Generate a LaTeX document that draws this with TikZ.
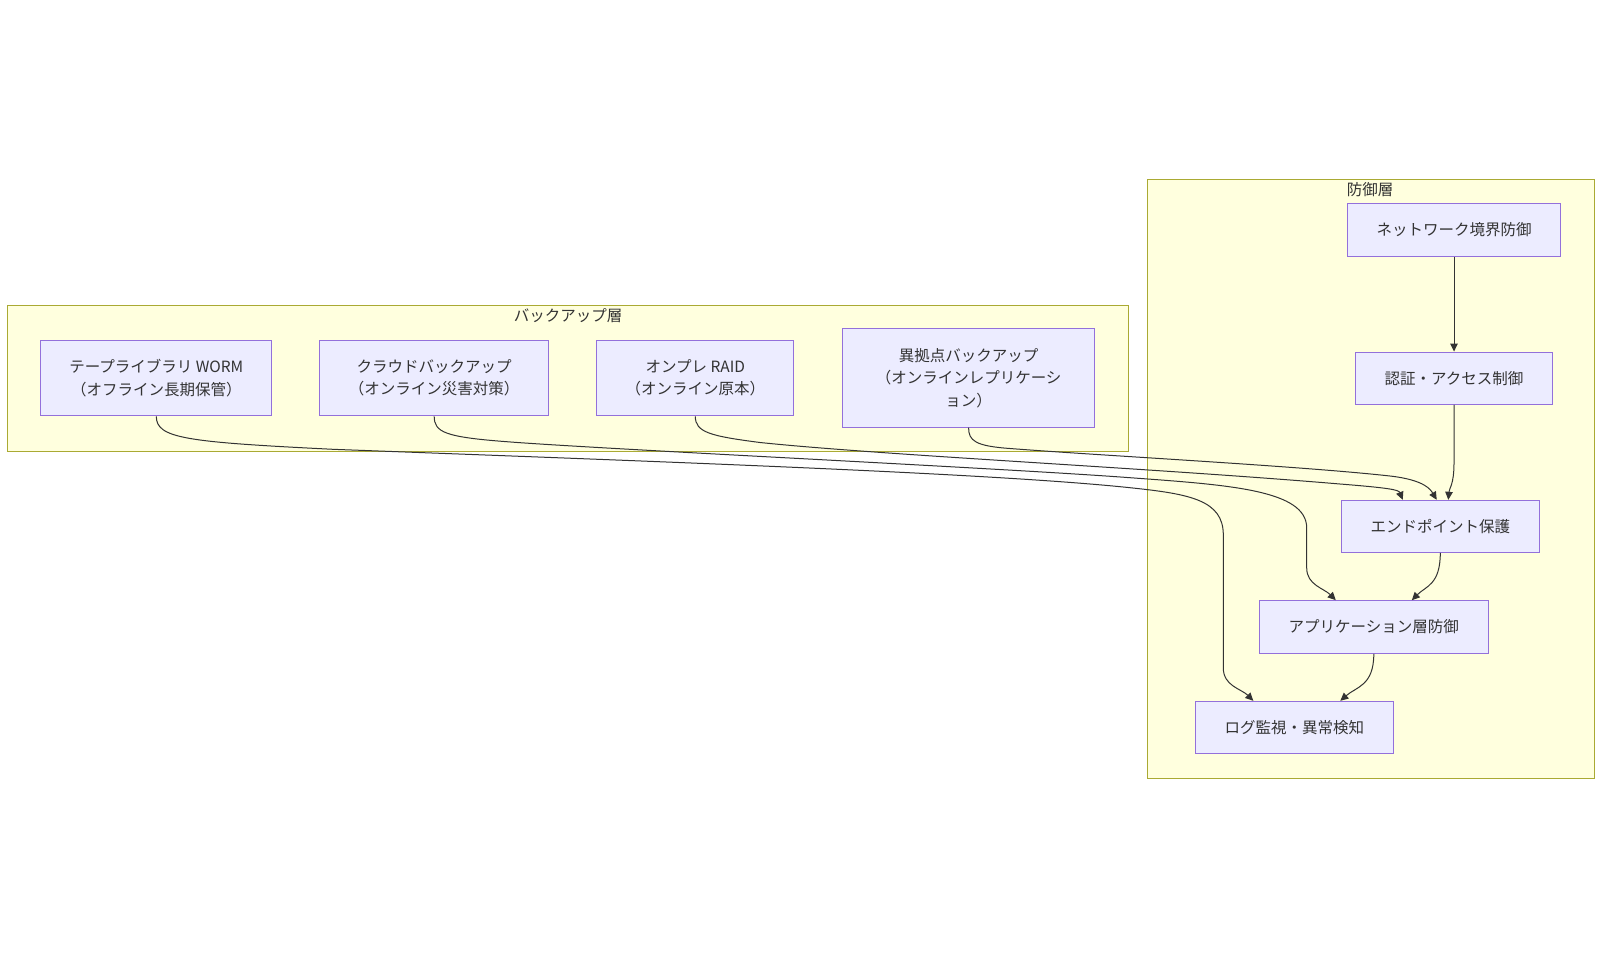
\documentclass[tikz,border=0pt]{standalone}
\usepackage{fontspec}
\setmainfont{Noto Sans CJK JP}
\usetikzlibrary{arrows.meta}
\definecolor{layerfill}{HTML}{FFFFDE}
\definecolor{layerline}{HTML}{AAAA33}
\definecolor{boxfill}{HTML}{ECECFF}
\definecolor{boxline}{HTML}{9370DB}
\definecolor{inkgray}{HTML}{333333}

\begin{document}
\begin{tikzpicture}[x=1pt,y=-1pt]
\tikzstyle{every node}=[font=\fontsize{15.5pt}{22.5pt}\selectfont,text=inkgray];
\tikzstyle{layer}=[draw=layerline,fill=layerfill,line width=1pt,anchor=north west,inner sep=0pt];
\tikzstyle{box}=[draw=boxline,fill=boxfill,line width=1pt,align=center,inner sep=0pt];
\tikzstyle{link}=[draw=inkgray,line width=1pt,-{Triangle[length=8pt,width=7.5pt]}];
\fill[white] (0,0) rectangle (1602,958);

\node[layer,minimum width=1120.8pt,minimum height=146.7pt] (backup) at (7.2,304.5) {};
\node[layer,minimum width=446.7pt,minimum height=598.4pt] (defense) at (1147.3,179.3) {};
\node (backuptitle) at (568,316) {バックアップ層};
\node (defensetitle) at (1370,190) {防御層};

\node[box,minimum width=231pt,minimum height=75.6pt] (tape) at (156.3,378) {テープライブラリ WORM\\（オフライン長期保管）};
\node[box,minimum width=229pt,minimum height=75.6pt] (cloud) at (434.2,378) {クラウドバックアップ\\（オンライン災害対策）};
\node[box,minimum width=197pt,minimum height=75.6pt] (onpre) at (695.3,378) {オンプレ RAID\\（オンライン原本）};
\node[box,minimum width=251.4pt,minimum height=98.3pt] (remote) at (968.6,378) {異拠点バックアップ\\（オンラインレプリケーシ\\ョン）};

\node[box,minimum width=213.4pt,minimum height=52.6pt] (network) at (1454,230) {ネットワーク境界防御};
\node[box,minimum width=197.7pt,minimum height=52.3pt] (auth) at (1454,378.2) {認証・アクセス制御};
\node[box,minimum width=198pt,minimum height=52pt] (endpoint) at (1440.3,526.3) {エンドポイント保護};
\node[box,minimum width=229pt,minimum height=52.6pt] (app) at (1373.8,627) {アプリケーション層防御};
\node[box,minimum width=198pt,minimum height=52.4pt] (log) at (1294.3,727.5) {ログ監視・異常検知};

\draw[link] (network.south) -- (auth.north);
\draw[link] (auth.south) -- ++(0,58) .. controls +(0,22) and +(1,-12) .. ([xshift=8pt]endpoint.north);
\draw[link] (endpoint.south) .. controls +(0,32) and +(14,-14) .. ([xshift=38pt]app.north);
\draw[link] (app.south) .. controls +(0,32) and +(16,-14) .. ([xshift=46pt]log.north);

\draw[link] (tape.south) .. controls +(0,22) and (185,442) .. (333,449.3)
  .. controls (700,463) and (1000,474) .. (1130,487.7)
  .. controls (1190,494) and (1223.3,500) .. (1223.3,535) -- (1223.3,668)
  .. controls +(0,18) and +(-12,-12) .. ([xshift=-41pt]log.north);
\draw[link] (cloud.south) .. controls +(0,16) and (445,437) .. (506.7,441.7)
  .. controls (600,449) and (1000,468) .. (1130,477.7)
  .. controls (1230,485) and (1306.7,490) .. (1306.7,528) -- (1306.7,568)
  .. controls +(0,17) and +(-12,-12) .. ([xshift=-38pt]app.north);
\draw[link] (onpre.south) .. controls +(0,16) and (710,436) .. (760,442.5)
  .. controls (880,455) and (1150,468) .. (1340,484)
  .. controls (1390,488) and +(-4,-10) .. ([xshift=-37.6pt]endpoint.north);
\draw[link] (remote.south) .. controls +(0,13) and (975,446) .. (1010,448.5)
  .. controls (1100,455.5) and (1300,466) .. (1390,476)
  .. controls (1425,480) and +(-6,-10) .. ([xshift=-3.6pt]endpoint.north);
\end{tikzpicture}
\end{document}
